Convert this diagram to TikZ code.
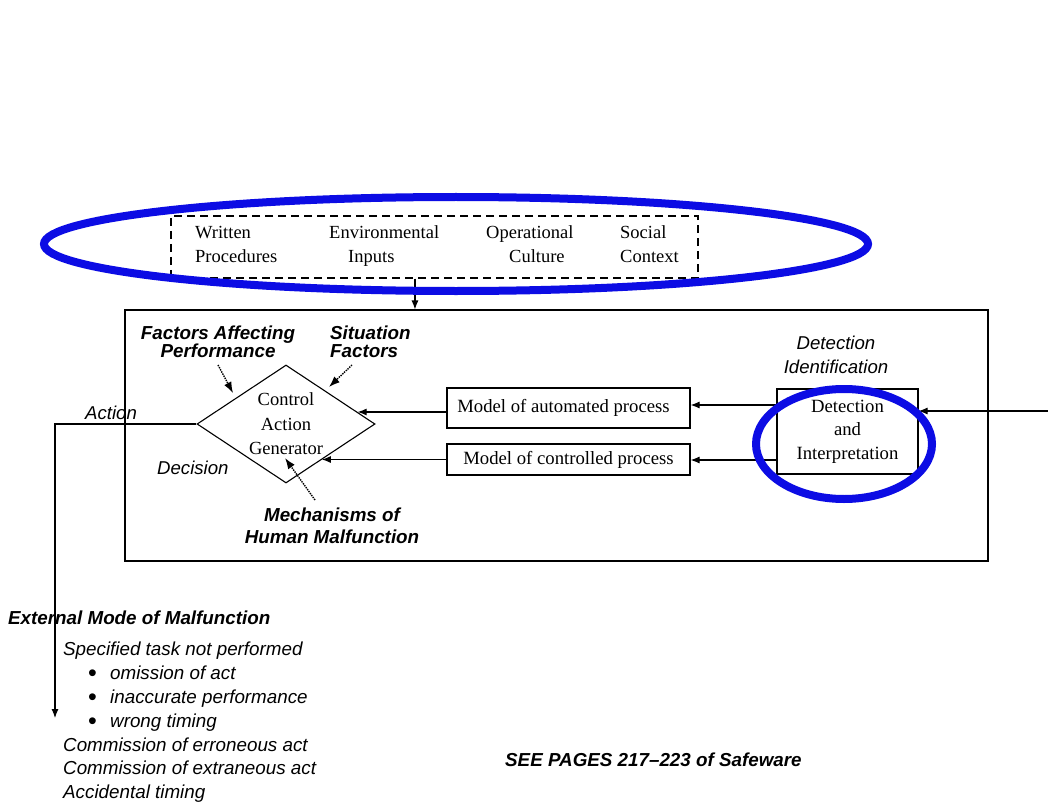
\documentclass[tikz,border=0pt]{standalone}
\usepackage{fontspec}
\setmainfont{Liberation Serif}
\setsansfont{Liberation Sans}
\usetikzlibrary{shapes.geometric,arrows.meta,calc}
\definecolor{ringblue}{RGB}{12,12,228}
\newcommand\modebullet{\hspace*{25pt}\makebox[22pt][l]{\raisebox{-2.2pt}{\upshape\fontsize{25}{25}\selectfont •}}}
\begin{document}
\begin{tikzpicture}[x=1pt,y=-1pt,
  serif/.style={font=\fontsize{18.5}{23.5}\selectfont, inner sep=0pt},
  sit/.style={font=\sffamily\itshape\fontsize{18.6}{24}\selectfont, inner sep=0pt},
  bsit/.style={font=\sffamily\bfseries\itshape\fontsize{18.8}{17.5}\selectfont, inner sep=0pt},
  box/.style={draw, line width=1.1pt, inner sep=0pt, font=\fontsize{18.7}{23.5}\selectfont, align=center},
  arr/.style={line width=1.1pt, -{Latex[length=9pt,width=7pt]}},
  hint/.style={line width=1.4pt, densely dotted, -{Latex[length=11pt,width=8pt]}},
  ring/.style={draw=ringblue, line width=8pt}]
\useasboundingbox[fill=white] (0,0) rectangle (1048,802);

% context box with the four influences
\node[draw, line width=1.1pt, dash pattern=on 8pt off 5pt, minimum width=527pt, minimum height=62pt, inner sep=0pt] (ctx) at (434.5,247) {};
\node[serif, anchor=base west] (w1) at (195,239) {Written};
\node[serif, anchor=base west] (w2) at (195,262) {Procedures};
\node[serif, anchor=base west] (e1) at (329,239) {Environmental};
\node[serif, anchor=base west] (e2) at (348,262) {Inputs};
\node[serif, anchor=base west] (o1) at (486,239) {Operational};
\node[serif, anchor=base west] (o2) at (509,262) {Culture};
\node[serif, anchor=base west] (s1) at (620,239) {Social};
\node[serif, anchor=base west] (s2) at (620,262) {Context};

% operator frame
\node[draw, line width=1.1pt, minimum width=863pt, minimum height=251pt, inner sep=0pt] (main) at (556.5,435.5) {};
\coordinate (ctxOut) at ($(ctx.south west)!0.463!(ctx.south east)$);
\draw[arr] (ctxOut) -- (ctxOut |- main.north);

% control action generator
\node[draw, line width=1.1pt, shape=diamond, aspect=1.5, minimum width=178pt, minimum height=118pt, inner sep=0pt, align=center, font=\fontsize{18.5}{24.5}\selectfont] (cag) at (286,424) {Control\\Action\\Generator};

% process models and detection
\node[box, minimum width=243pt, minimum height=40pt] (mauto) at (568.5,408) {Model of automated process\hspace*{10pt}};
\node[box, minimum width=243pt, minimum height=31pt] (mctrl) at (568.5,459.5) {Model of controlled process};
\node[box, minimum width=141pt, minimum height=85pt] (det) at (847.5,431.5) {Detection\\and\\Interpretation};

\draw[arr] ([yshift=26.5pt]det.west) -- ([yshift=26.5pt]det.west -| mauto.east);
\draw[arr] ([yshift=-28.5pt]det.west) -- ([yshift=-28.5pt]det.west -| mctrl.east);
\coordinate (cagA) at ($(cag.north)!0.8!(cag.east)$);
\coordinate (cagB) at ($(cag.east)!0.6!(cag.south)$);
\draw[arr] ([yshift=-4pt]mauto.west) -- ([yshift=-4pt]mauto.west -| cagA);
\draw[arr] (mctrl.west) -- (mctrl.west -| cagB);

\coordinate (feedIn) at (1048,411);
\draw[arr] (feedIn) -- (feedIn -| det.east);

% action output
\coordinate (actEnd) at (55,718);
\draw[arr] (cag.west) -| (actEnd);

% influences on the generator
\node[bsit, align=center] (fap) at (218,342) {Factors Affecting\\Performance};
\node[bsit, align=left, anchor=west] (sitf) at (330,342) {Situation\\Factors};
\node[bsit, align=center, font=\sffamily\bfseries\itshape\fontsize{18.8}{22}\selectfont] (mech) at (332,526) {Mechanisms of\\Human Malfunction};
\coordinate (fapT) at (218,365);  \coordinate (fapH) at (233,393);
\coordinate (sitT) at (352,365);  \coordinate (sitH) at (329,387);
\coordinate (mechT) at (315,500); \coordinate (mechH) at (285,458);
\draw[hint] (fapT) -- (fapH);
\draw[hint] (sitT) -- (sitH);
\draw[hint] (mechT) -- (mechH);

% labels
\node[sit, anchor=base west] (lact) at (85,419) {Action};
\node[sit, anchor=base west] (ldec) at (157,474) {Decision};
\node[sit, align=center] (ldet) at (836,355) {Detection\\Identification};

% external modes
\node[bsit, anchor=base west] (ext) at (8,624) {External Mode of Malfunction};
\node[sit, anchor=north west, align=left, font=\sffamily\itshape\fontsize{18.8}{23.8}\selectfont] (modes) at (63,642)
  {Specified task not performed\\
   \modebullet omission of act\\
   \modebullet inaccurate performance\\
   \modebullet wrong timing\\
   Commission of erroneous act\\
   Commission of extraneous act\\
   Accidental timing};

\node[bsit, anchor=base west] (see) at (505,766) {SEE PAGES 217–223 of Safeware};

% highlight rings
\draw[ring] (456,244) ellipse [x radius=412pt, y radius=47pt];
\draw[ring] (844,444) ellipse [x radius=88pt, y radius=55pt];
\end{tikzpicture}
\end{document}
